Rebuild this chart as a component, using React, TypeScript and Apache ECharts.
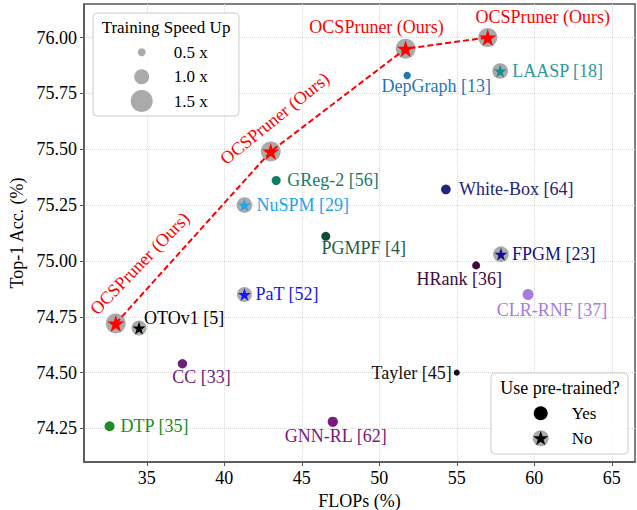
import React, { useEffect, useRef } from "react";
import * as echarts from "echarts";

// ---------- data ----------
const ocsName = "OCSPruner (Ours)";
const ocsFlops = [33.0, 43.0, 51.7, 57.0];
const ocsAcc = [74.72, 75.49, 75.95, 76.0];
const ocsSpeedUp = [1.35, 1.35, 1.35, 1.3];

const starMethods = ["OTOv1 [5]", "PaT [52]", "NuSPM [29]", "LAASP [18]", "FPGM [23]"];
const starFlops = [34.5, 41.3, 41.3, 57.8, 57.85];
const starAcc = [74.7, 74.85, 75.25, 75.85, 75.03];
const starSpeedUp = [1.0, 1.0, 1.05, 1.05, 1.05];

const circleMethods = [
  "CC [33]", "DTP [35]", "GNN-RL [62]", "Tayler [45]", "HRank [36]",
  "CLR-RNF [37]", "PGMPF [4]", "White-Box [64]", "GReg-2 [56]", "DepGraph [13]",
];
const circleFlops = [37.3, 32.6, 47.0, 55.0, 56.25, 59.6, 46.55, 54.3, 43.35, 51.8];
const circleAcc = [74.54, 74.26, 74.28, 74.5, 74.98, 74.85, 75.11, 75.32, 75.36, 75.83];
const circleSpeedUp = [0.6, 0.64, 0.66, 0.36, 0.5, 0.71, 0.57, 0.62, 0.57, 0.45];

const xTicks = [35, 40, 45, 50, 55, 60, 65];
const yTicks = [74.25, 74.5, 74.75, 75.0, 75.25, 75.5, 75.75, 76.0];
const legendSpeeds = [0.5, 1.0, 1.5];

// ---------- styles / layout ----------
const FONT = '"Liberation Serif", "Times New Roman", serif';
const GRAY = "#aaaaaa";
const sizeOf = (s: number) => 1 + 14 * s;

const starColors = ["#000000", "#1414ff", "#1ea5ee", "#158f8f", "#10108a"];
const starLabelColors = ["#000000", "#1414ff", "#1ea5ee", "#2a9a9a", "#10108a"];
const starLabelLayout: [string, number, number][] = [
  ["left", 5, -10], ["left", 11, 0], ["left", 12, 0], ["left", 12, 0], ["left", 11, 0],
];
const circleColors = [
  "#6a2278", "#1e8c1e", "#7a1a80", "#111111", "#3e0a40",
  "#a67ddb", "#0f4d3b", "#23247c", "#0f7a66", "#1f77b4",
];
const circleLabelColors = [
  "#6a2278", "#1e8c1e", "#7a1a80", "#111111", "#3e0a40",
  "#a67ddb", "#1f5c4a", "#23247c", "#1a7a68", "#1f77b4",
];
const circleLabelLayout: [string, number, number][] = [
  ["center", 19, 13], ["left", 11, 0], ["center", 3, 14], ["right", -5, 0], ["center", -17, 14],
  ["center", 24, 16], ["center", 38, 12], ["left", 13, 0], ["left", 11, 0], ["center", 29, 11],
];
// screen offset dx, dy and rotation (deg)
const ocsLabelLayout: [number, number, number][] = [
  [24, -60, 46], [4, -33, 39], [-29, -22, 0], [55, -21, 0],
];

// convert a screen-space offset into the rotated label frame
function localOffset(dx: number, dy: number, deg: number): number[] {
  const t = (deg * Math.PI) / 180;
  const c = Math.cos(t), s = Math.sin(t);
  return [dx * c - dy * s, dx * s + dy * c];
}

function starPoints(cx: number, cy: number, R: number): number[][] {
  const pts: number[][] = [];
  for (let k = 0; k < 10; k++) {
    const a = -Math.PI / 2 + (k * Math.PI) / 5;
    const r = k % 2 ? R * 0.382 : R;
    pts.push([cx + r * Math.cos(a), cy + r * Math.sin(a)]);
  }
  return pts;
}
const STAR_PATH =
  "path://" +
  starPoints(50, 50, 50)
    .map((p, i) => (i ? "L" : "M") + p[0].toFixed(2) + " " + p[1].toFixed(2))
    .join(" ") +
  " Z";

export default function App() {
  const ref = useRef<HTMLDivElement>(null);
  useEffect(() => {
    if (!ref.current) return;
    const chart = echarts.init(ref.current, null, { renderer: "svg" });

    const labelBase = { show: true, position: "inside", fontFamily: FONT, fontSize: 18, verticalAlign: "middle" };

    const grayData = [
      ...ocsFlops.map((x, i) => ({ value: [x, ocsAcc[i]], symbolSize: sizeOf(ocsSpeedUp[i]) })),
      ...starFlops.map((x, i) => ({ value: [x, starAcc[i]], symbolSize: sizeOf(starSpeedUp[i]) })),
    ];

    const circleData = circleFlops.map((x, i) => ({
      value: [x, circleAcc[i]],
      name: circleMethods[i],
      symbolSize: sizeOf(circleSpeedUp[i]),
      itemStyle: { color: circleColors[i], opacity: 1 },
      label: {
        ...labelBase,
        formatter: circleMethods[i],
        color: circleLabelColors[i],
        align: circleLabelLayout[i][0],
        offset: [circleLabelLayout[i][1], circleLabelLayout[i][2]],
      },
    }));

    const starData = starFlops.map((x, i) => ({
      value: [x, starAcc[i]],
      name: starMethods[i],
      itemStyle: { color: starColors[i], opacity: 1 },
      label: {
        ...labelBase,
        formatter: starMethods[i],
        color: starLabelColors[i],
        align: starLabelLayout[i][0],
        offset: [starLabelLayout[i][1], starLabelLayout[i][2]],
      },
    }));

    const ocsData = ocsFlops.map((x, i) => ({
      value: [x, ocsAcc[i]],
      name: ocsName,
      itemStyle: { color: "#ff0000", opacity: 1 },
      label: {
        ...labelBase,
        formatter: ocsName,
        color: "#ff0000",
        align: "center",
        offset: localOffset(ocsLabelLayout[i][0], ocsLabelLayout[i][1], ocsLabelLayout[i][2]),
        rotate: ocsLabelLayout[i][2],
      },
    }));

    const txt = (text: string, x: number, y: number, size: number, align = "left") => ({
      type: "text",
      x,
      y,
      z: 101,
      style: {
        text,
        font: `${size}px ${FONT}`,
        fill: "#000",
        align,
        verticalAlign: "middle",
        textAlign: align,
        textVerticalAlign: "middle",
      },
    });

    const legendY = [52.3, 76.7, 101];
    const graphic: any[] = [
      {
        type: "rect",
        z: 100,
        shape: { x: 93, y: 13, width: 146, height: 103, r: 4 },
        style: { fill: "rgba(255,255,255,0.85)", stroke: "#cccccc", lineWidth: 1 },
      },
      txt("Training Speed Up", 166, 27, 17, "center"),
      ...legendSpeeds.map((s, i) => ({
        type: "circle",
        z: 101,
        shape: { cx: 141.7, cy: legendY[i], r: sizeOf(s) / 2 },
        style: { fill: GRAY },
      })),
      ...legendSpeeds.map((s, i) => txt(s.toFixed(1) + " x", 173.7, legendY[i], 17)),
      {
        type: "rect",
        z: 100,
        shape: { x: 491, y: 373, width: 137, height: 81, r: 4 },
        style: { fill: "rgba(255,255,255,0.85)", stroke: "#cccccc", lineWidth: 1 },
      },
      txt("Use pre-trained?", 560, 387.5, 18, "center"),
      { type: "circle", z: 101, shape: { cx: 540.7, cy: 413.3, r: 7 }, style: { fill: "#000" } },
      { type: "circle", z: 101, shape: { cx: 540.7, cy: 438.3, r: 8 }, style: { fill: GRAY } },
      {
        type: "polygon",
        z: 102,
        shape: { points: starPoints(540.7, 438.8, 8) },
        style: { fill: "#000" },
      },
      txt("Yes", 571.7, 413.3, 17),
      txt("No", 571.7, 438.3, 17),
    ];

    const option: any = {
      animation: false,
      textStyle: { fontFamily: FONT, fontSize: 18 },
      grid: {
        left: 84,
        right: 2,
        top: 4,
        bottom: 48,
        containLabel: false,
        outerBoundsMode: "none",
        show: true,
        borderColor: "#555",
        borderWidth: 1.5,
        backgroundColor: "transparent",
      },
      xAxis: {
        type: "value",
        min: 30.95,
        max: 66.5,
        name: "FLOPs (%)",
        nameLocation: "middle",
        nameGap: 26,
        nameTextStyle: { fontFamily: FONT, fontSize: 18, color: "#000" },
        axisLine: { show: true, lineStyle: { color: "#555", width: 1.5 } },
        axisTick: { show: true, length: 4, customValues: xTicks, lineStyle: { color: "#555" } },
        axisLabel: { customValues: xTicks, fontFamily: FONT, fontSize: 18, color: "#000", margin: 7 },
        splitLine: { show: true, lineStyle: { type: "dotted", color: "#d8d8d8", width: 1 } },
      },
      yAxis: {
        type: "value",
        min: 74.1,
        max: 76.15,
        name: "Top-1 Acc. (%)",
        nameLocation: "middle",
        nameGap: 52,
        nameTextStyle: { fontFamily: FONT, fontSize: 18, color: "#000" },
        axisLine: { show: true, lineStyle: { color: "#555", width: 1.5 } },
        axisTick: { show: true, length: 4, customValues: yTicks, lineStyle: { color: "#555" } },
        axisLabel: {
          customValues: yTicks,
          fontFamily: FONT,
          fontSize: 18,
          color: "#000",
          margin: 7,
          formatter: (v: number) => v.toFixed(2),
        },
        splitLine: { show: true, lineStyle: { type: "dotted", color: "#d8d8d8", width: 1 } },
      },
      series: [
        {
          type: "scatter",
          symbol: "circle",
          z: 2,
          itemStyle: { color: GRAY, opacity: 1 },
          data: grayData,
          silent: true,
        },
        {
          type: "line",
          z: 3,
          symbol: "none",
          lineStyle: { type: [6, 3], color: "#ff0000", width: 2 },
          data: ocsFlops.map((x, i) => [x, ocsAcc[i]]),
        },
        {
          type: "scatter",
          z: 4,
          symbol: "circle",
          itemStyle: { opacity: 1 },
          label: { fontFamily: FONT, fontSize: 18 },
          data: circleData,
        },
        {
          type: "scatter",
          z: 4,
          symbol: STAR_PATH,
          symbolSize: 13,
          itemStyle: { opacity: 1 },
          label: { fontFamily: FONT, fontSize: 18 },
          data: starData,
        },
        {
          type: "scatter",
          z: 5,
          symbol: STAR_PATH,
          symbolSize: 17,
          itemStyle: { color: "#ff0000", opacity: 1 },
          label: { fontFamily: FONT, fontSize: 18 },
          data: ocsData,
        },
      ],
      graphic,
    };
    chart.setOption(option);
    return () => chart.dispose();
  }, []);

  return (
    <div
      ref={ref}
      style={{ position: "fixed", left: 0, top: 0, width: 637, height: 510, background: "#fff" }}
    />
  );
}
